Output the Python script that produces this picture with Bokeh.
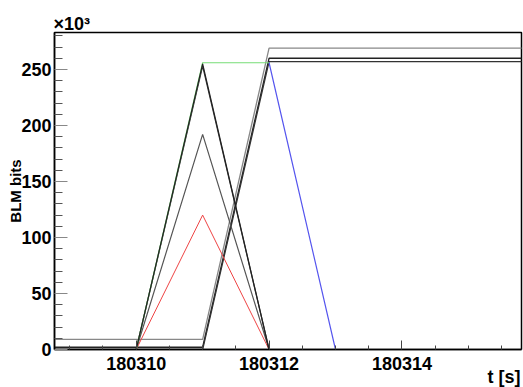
import math
from bokeh.plotting import figure
from bokeh.models import FixedTicker, NumeralTickFormatter, Range1d, Title
from bokeh.embed import file_html
from bokeh.resources import INLINE

# ---- data (BLM bits in units of 10^3, time in s) ----
t_peak = [180308.7, 180310, 180311, 180312, 180316]
peak_black1 = [0, 0, 255, 0, 0]
peak_black2 = [0, 0, 253, 0, 0]
peak_gray = [0, 0, 192, 0, 0]
peak_red = [0, 0, 120, 0, 0]

t_green = [180308.7, 180310, 180311, 180312]
green = [0, 0, 256, 256]
t_blue = [180312, 180313, 180316]
blue = [256, 0, 0]

t_step = [180308.7, 180311, 180312, 180316]
step_gray = [9, 9, 269, 269]
step_black1 = [2, 2, 260, 260]
step_black2 = [0, 0, 257, 257]

x_major = [180310, 180312, 180314]
x_minor = [180309, 180309.5, 180310.5, 180311, 180311.5, 180312.5, 180313,
           180313.5, 180314.5, 180315, 180315.5]
y_major = [0, 50, 100, 150, 200, 250]
y_minor = [10, 20, 30, 40, 60, 70, 80, 90, 110, 120, 130, 140, 160, 170, 180,
           190, 210, 220, 230, 240, 260, 270, 280]

X0, X1 = 180308.77, 180315.8
Y0, Y1 = 0, 283

W, H = 523, 387

p = figure(width=W, height=H, output_backend="svg", toolbar_location=None,
           x_range=Range1d(X0, X1), y_range=Range1d(Y0, Y1),
           min_border_left=54, min_border_right=2, min_border_top=32,
           min_border_bottom=38)
p.xgrid.visible = False
p.ygrid.visible = False
p.outline_line_color = "black"
p.outline_line_width = 1.5
p.background_fill_color = "white"
p.border_fill_color = "white"

FONT = "Liberation Sans"

for ax in (p.xaxis[0], p.yaxis[0]):
    ax.axis_line_color = "black"
    ax.axis_line_width = 1.5
    ax.major_tick_out = 0
    ax.minor_tick_out = 0
    ax.major_label_text_font = FONT
    ax.major_label_text_font_style = "bold"
    ax.major_label_text_font_size = "18px"
    ax.major_label_text_color = "black"
    ax.axis_label_text_font = FONT
    ax.axis_label_text_font_style = "bold"
    ax.axis_label_text_color = "black"

p.xaxis[0].ticker = FixedTicker(ticks=x_major, minor_ticks=x_minor)
p.xaxis[0].formatter = NumeralTickFormatter(format="0")
p.xaxis[0].major_tick_in = 9
p.xaxis[0].minor_tick_in = 4
p.xaxis[0].major_tick_line_color = "#444444"
p.xaxis[0].minor_tick_line_color = "#444444"
p.xaxis[0].major_label_standoff = 7

p.yaxis[0].ticker = FixedTicker(ticks=y_major, minor_ticks=y_minor)
p.yaxis[0].major_tick_in = 13
p.yaxis[0].minor_tick_in = 8
p.yaxis[0].major_tick_line_color = "#888888"
p.yaxis[0].minor_tick_line_color = "#555555"
p.yaxis[0].major_label_standoff = 3
p.yaxis[0].axis_label = "BLM bits"
p.yaxis[0].axis_label_text_font_size = "15px"
p.yaxis[0].axis_label_standoff = -6

p.add_layout(Title(text="×10³", align="left", text_font=FONT,
                   text_font_style="bold", text_font_size="18px",
                   text_color="black", standoff=-2, offset=-1), "above")
p.add_layout(Title(text="t [s]", align="right", text_font=FONT,
                   text_font_style="bold", text_font_size="18px",
                   text_color="black", standoff=-16, offset=1), "below")

# ---- lines ----
p.line(t_step, step_gray, line_color="#888888", line_width=1.3)
p.line(t_step, step_black1, line_color="#222222", line_width=1.3)
p.line(t_step, step_black2, line_color="#333333", line_width=1.3)
p.line(t_peak, peak_gray, line_color="#555555", line_width=1.2)
p.line(t_peak, peak_red, line_color="#ee4444", line_width=1.0)
p.line(t_peak, peak_black2, line_color="#333333", line_width=1.2)
p.line(t_green, green, line_color="#77dd77", line_width=1.2)
p.line(t_peak, peak_black1, line_color="#222222", line_width=1.2)
p.line(t_blue, blue, line_color="#5555ee", line_width=1.2)

open("out.html", "w").write(file_html(p, INLINE))
